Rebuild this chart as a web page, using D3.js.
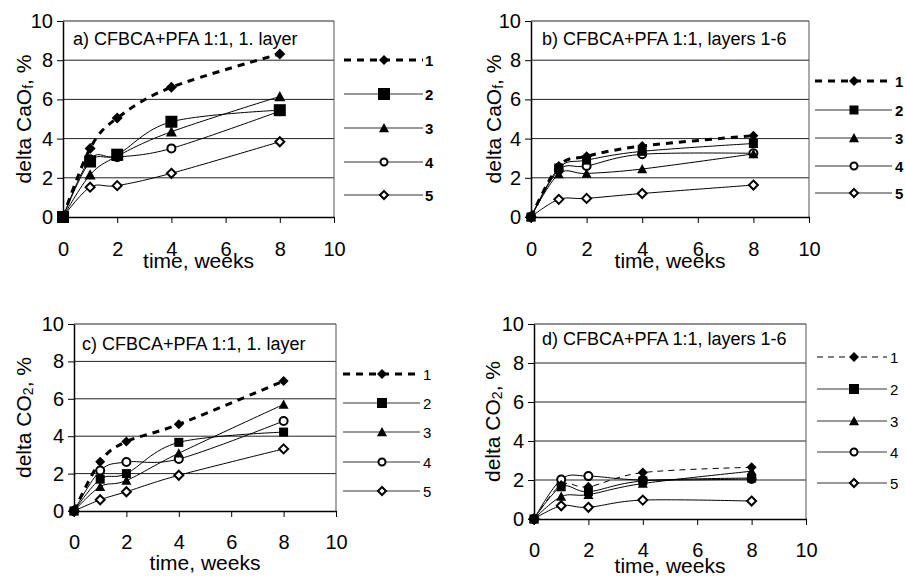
<!DOCTYPE html>
<html>
<head>
<meta charset="utf-8">
<script src="https://cdn.jsdelivr.net/npm/d3@7"></script>
<style>
  html, body { margin: 0; padding: 0; background: #fff; }
  svg { display: block; font-family: "Liberation Sans", Arial, sans-serif; }
</style>
</head>
<body>
<svg id="chart" width="905" height="578"></svg>
<script>
// Sampling times (weeks)
const weeks = [0, 1, 2, 4, 8];
const seriesNames = ["1", "2", "3", "4", "5"];
const xTicks = [0, 2, 4, 6, 8, 10];
const yTicks = [0, 2, 4, 6, 8, 10];

const panelTitles = [
  "a) CFBCA+PFA 1:1, 1. layer",
  "b) CFBCA+PFA 1:1, layers 1-6",
  "c) CFBCA+PFA 1:1, 1. layer",
  "d) CFBCA+PFA 1:1, layers 1-6"
];
const xAxisTitle = "time, weeks";

// delta CaO_f, %, 1. layer (one row per series 1..5)
const caoLayer1 = [
  [0, 3.50, 5.05, 6.62, 8.32],
  [0, 2.83, 3.18, 4.86, 5.45],
  [0, 2.15, 3.10, 4.35, 6.15],
  [0, 2.95, 3.05, 3.50, 5.40],
  [0, 1.52, 1.60, 2.23, 3.84]
];
// delta CaO_f, %, layers 1-6
const caoLayers16 = [
  [0, 2.60, 3.10, 3.62, 4.15],
  [0, 2.50, 2.90, 3.35, 3.75],
  [0, 2.20, 2.22, 2.45, 3.22],
  [0, 2.40, 2.60, 3.20, 3.25],
  [0, 0.90, 0.95, 1.20, 1.63]
];
// delta CO2, %, 1. layer
const co2Layer1 = [
  [0, 2.64, 3.71, 4.64, 6.95],
  [0, 1.70, 2.00, 3.67, 4.22],
  [0, 1.30, 1.63, 3.09, 5.70],
  [0, 2.16, 2.62, 2.78, 4.81],
  [0, 0.60, 1.03, 1.91, 3.32]
];
// delta CO2, %, layers 1-6
const co2Layers16 = [
  [0, 1.75, 1.65, 2.38, 2.65],
  [0, 1.65, 1.40, 1.95, 2.10],
  [0, 1.15, 1.25, 1.82, 2.45],
  [0, 2.03, 2.20, 2.00, 2.05],
  [0, 0.68, 0.60, 0.97, 0.92]
];

// Panel layout
const panels = [
  { data: caoLayer1, title: panelTitles[0], yMain: "delta CaO", ySub: "f",
    x0: 63, x1: 334, yb: 217, yt: 21, tickBase: 39, xTitleY: 268, yTitleX: 23,
    titleX: 73, titleY: 44.5,
    legend: { x1: 344, x2: 423, mx: 384, tx: 425, rows: [60, 94, 128, 162, 195], bold: true },
    dash: "7,6", dashW: 3, sz: { di: 11, sq: 12, tri: 11, circ: 4, odi: 9 },
    lsz: { di: 10, sq: 12, tri: 10, circ: 3.5, odi: 8 } },
  { data: caoLayers16, title: panelTitles[1], yMain: "delta CaO", ySub: "f",
    x0: 531, x1: 809, yb: 217, yt: 21, tickBase: 39, xTitleY: 268, yTitleX: 493,
    titleX: 542, titleY: 44.5,
    legend: { x1: 815, x2: 892, mx: 854, tx: 895, rows: [81, 110, 138, 166, 193], bold: true },
    dash: "7,6", dashW: 3, sz: { di: 10, sq: 9, tri: 10, circ: 4, odi: 9 },
    lsz: { di: 10, sq: 9, tri: 10, circ: 3.5, odi: 8 } },
  { data: co2Layer1, title: panelTitles[2], yMain: "delta CO", ySub: "2",
    x0: 74, x1: 336, yb: 511, yt: 324, tickBase: 38, xTitleY: 570, yTitleX: 23,
    titleX: 82, titleY: 349.5,
    legend: { x1: 343, x2: 420, mx: 382, tx: 423, rows: [374, 403, 432, 462, 491], bold: false },
    dash: "7,6", dashW: 3, sz: { di: 10, sq: 9, tri: 10, circ: 4, odi: 9 },
    lsz: { di: 10, sq: 10, tri: 10, circ: 3.5, odi: 8 } },
  { data: co2Layers16, title: panelTitles[3], yMain: "delta CO", ySub: "2",
    x0: 534, x1: 806, yb: 519, yt: 324, tickBase: 38, xTitleY: 573, yTitleX: 492,
    titleX: 542, titleY: 344.5,
    legend: { x1: 817, x2: 887, mx: 854, tx: 890, rows: [357, 389, 421, 452, 483], bold: false },
    dash: "6,5", dashW: 1, sz: { di: 10, sq: 9, tri: 10, circ: 4, odi: 9 },
    lsz: { di: 10, sq: 10, tri: 10, circ: 3.5, odi: 8 } }
];

const svg = d3.select("#chart");

// Marker path generators (centred on 0,0)
function diamondPath(s) { const h = s / 2; return `M0,${-h}L${h},0L0,${h}L${-h},0Z`; }
function squarePath(s) { const h = s / 2; return `M${-h},${-h}H${h}V${h}H${-h}Z`; }
function trianglePath(s) { const h = s / 2; return `M0,${-h}L${h},${h * 0.85}L${-h},${h * 0.85}Z`; }

function drawMarker(g, i, x, y, sz) {
  if (i === 0) {
    g.append("path").attr("d", diamondPath(sz.di)).attr("transform", `translate(${x},${y})`).attr("fill", "#000");
  } else if (i === 1) {
    g.append("path").attr("d", squarePath(sz.sq)).attr("transform", `translate(${x},${y})`).attr("fill", "#000");
  } else if (i === 2) {
    g.append("path").attr("d", trianglePath(sz.tri)).attr("transform", `translate(${x},${y})`).attr("fill", "#000");
  } else if (i === 3) {
    g.append("circle").attr("cx", x).attr("cy", y).attr("r", sz.circ)
      .attr("fill", "#fff").attr("stroke", "#000").attr("stroke-width", 2);
  } else {
    g.append("path").attr("d", diamondPath(sz.odi)).attr("transform", `translate(${x},${y})`)
      .attr("fill", "#fff").attr("stroke", "#000").attr("stroke-width", 2);
  }
}

panels.forEach(p => {
  const x = d3.scaleLinear().domain([0, 10]).range([p.x0, p.x1]);
  const y = d3.scaleLinear().domain([0, 10]).range([p.yb, p.yt]);
  const g = svg.append("g");

  // horizontal gridlines (2..10) and right border
  g.selectAll("line.grid").data(yTicks.filter(t => t > 0)).join("line")
    .attr("x1", p.x0).attr("x2", p.x1)
    .attr("y1", d => y(d)).attr("y2", d => y(d))
    .attr("stroke", "#222").attr("stroke-width", 1);
  g.append("line").attr("x1", p.x1).attr("x2", p.x1).attr("y1", p.yt).attr("y2", p.yb)
    .attr("stroke", "#555").attr("stroke-width", 1);

  // axes
  const xAxis = g.append("g").attr("transform", `translate(0,${p.yb})`)
    .call(d3.axisBottom(x).tickValues(xTicks).tickSize(6).tickSizeOuter(0)
      .tickPadding(p.tickBase - 6 - 14.2));
  const yAxis = g.append("g").attr("transform", `translate(${p.x0},0)`)
    .call(d3.axisLeft(y).tickValues(yTicks).tickSize(6).tickSizeOuter(0).tickPadding(4));
  [xAxis, yAxis].forEach(a => {
    a.select(".domain").attr("stroke", "#000").attr("stroke-width", 1.5);
    a.selectAll(".tick line").attr("stroke", "#000").attr("stroke-width", 1);
    a.selectAll(".tick text").attr("font-size", 20).attr("font-family", "Liberation Sans, Arial, sans-serif").attr("fill", "#000");
  });

  // axis titles
  g.append("text").attr("x", (p.x0 + p.x1) / 2).attr("y", p.xTitleY)
    .attr("text-anchor", "middle").attr("font-size", 21).text(xAxisTitle);
  const yt = g.append("text")
    .attr("transform", `translate(${p.yTitleX},${(p.yt + p.yb) / 2}) rotate(-90)`)
    .attr("text-anchor", "middle").attr("dominant-baseline", "central").attr("font-size", 21);
  yt.append("tspan").text(p.yMain);
  yt.append("tspan").attr("font-size", 14).attr("dy", 5).text(p.ySub);
  yt.append("tspan").attr("dy", -5).text(", %");

  // panel title
  g.append("text").attr("x", p.titleX).attr("y", p.titleY).attr("font-size", 18).text(p.title);

  // series: smoothed line + markers; series 5 is drawn first so series 1-2 sit on top
  const line = d3.line().x((d, j) => x(weeks[j])).y(d => y(d)).curve(d3.curveCardinal.tension(0));
  const order = d3.range(p.data.length).reverse();
  order.forEach(i => {
    const vals = p.data[i];
    const sg = g.append("g");
    const path = sg.append("path").attr("d", line(vals)).attr("fill", "none").attr("stroke", "#000");
    if (i === 0) path.attr("stroke-width", p.dashW).attr("stroke-dasharray", p.dash);
    else path.attr("stroke-width", 1);
    vals.forEach((v, j) => drawMarker(sg, i, x(weeks[j]), y(v), p.sz));
  });

  // legend
  const L = p.legend;
  seriesNames.forEach((name, i) => {
    const lg = g.append("g");
    const ly = L.rows[i];
    const ln = lg.append("line").attr("x1", L.x1).attr("x2", L.x2).attr("y1", ly).attr("y2", ly).attr("stroke", "#000");
    if (i === 0) ln.attr("stroke-width", p.dashW).attr("stroke-dasharray", p.dash);
    else ln.attr("stroke-width", 1).attr("stroke", "#333");
    drawMarker(lg, i, L.mx, ly, p.lsz);
    lg.append("text").attr("x", L.tx).attr("y", ly).attr("dominant-baseline", "central")
      .attr("font-size", 15).attr("font-weight", L.bold ? "bold" : "normal").text(name);
  });
});
</script>
</body>
</html>
